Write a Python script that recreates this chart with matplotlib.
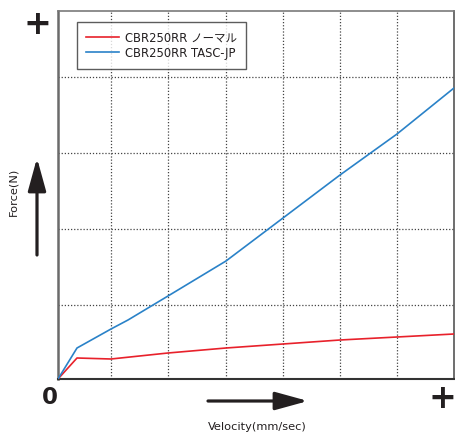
import matplotlib
matplotlib.use("Agg")
import matplotlib.pyplot as plt

plt.rcParams["font.family"] = ["DejaVu Sans", "Noto Sans CJK JP"]

# velocity / force samples (arbitrary units)
normal_x = [0, 19, 53, 110, 168, 282, 339, 396]
normal_y = [0, 21, 20, 26, 31, 39, 42, 45]
tasc_x = [0, 19, 53, 70, 110, 168, 225, 282, 339, 396]
tasc_y = [0, 31, 50, 59, 83, 118, 161, 204, 245, 291]

grid_x = [53, 110, 168, 225, 282, 339]
grid_y = [74, 150, 226, 302]

labels = ["CBR250RR ノーマル", "CBR250RR TASC-JP"]
colors = ["#e8212b", "#2a82c8"]

W, H = 455, 434
fig = plt.figure(figsize=(W / 100, H / 100), dpi=100)
ax = fig.add_axes([58 / W, (H - 379) / H, 396 / W, 368 / H])

for gx in grid_x:
    ax.axvline(gx, color="#444444", lw=0.9, ls=(0, (1, 1.5)), zorder=1)
for gy in grid_y:
    ax.axhline(gy, color="#444444", lw=0.9, ls=(0, (1, 1.5)), zorder=1)

ax.plot(normal_x, normal_y, color=colors[0], lw=1.2, label=labels[0], zorder=3)
ax.plot(tasc_x, tasc_y, color=colors[1], lw=1.2, label=labels[1], zorder=3)

ax.set_xlim(0, 396)
ax.set_ylim(0, 368)
ax.set_xticks([])
ax.set_yticks([])
ax.spines["left"].set_color("#6b6b6b")
ax.spines["left"].set_linewidth(1.8)
ax.spines["top"].set_color("#7a7a7a")
ax.spines["top"].set_linewidth(1.2)
ax.spines["right"].set_color("#555555")
ax.spines["right"].set_linewidth(1.2)
ax.spines["bottom"].set_color("#333333")
ax.spines["bottom"].set_linewidth(1.5)

leg = ax.legend(loc="upper left", fontsize=8.3, frameon=True, fancybox=False,
                handlelength=2.85, handletextpad=0.5, borderpad=0.8,
                labelspacing=0.2, borderaxespad=0,
                bbox_to_anchor=(77 / W, (H - 22) / H),
                bbox_transform=fig.transFigure)
leg.get_frame().set_edgecolor("#333333")
leg.get_frame().set_linewidth(1.0)
for line in leg.get_lines():
    line.set_linewidth(1.2)
for t in leg.get_texts():
    t.set_color("#231f20")

arrow = dict(arrowstyle="-|>,head_length=2.0,head_width=0.55", lw=2.3,
             color="#231f20", mutation_scale=10, shrinkA=0, shrinkB=0)
ax.annotate("", xy=(37, H - 158), xytext=(37, H - 255),
            xycoords="figure pixels", textcoords="figure pixels", arrowprops=arrow)
ax.annotate("", xy=(308, H - 401), xytext=(208, H - 401),
            xycoords="figure pixels", textcoords="figure pixels", arrowprops=arrow)

fig.text(13 / W, (H - 192) / H, "Force(N)", rotation=90, fontsize=8.2,
         ha="center", va="center", color="#231f20")
fig.text(257 / W, (H - 427) / H, "Velocity(mm/sec)", fontsize=8.2,
         ha="center", va="center", color="#231f20")

big = dict(fontweight="bold", color="#231f20", ha="center", va="center")
fig.text(50 / W, (H - 398) / H, "0", fontsize=16.5, **big)
fig.text(37 / W, (H - 24) / H, "+", fontsize=24, **big)
fig.text(442 / W, (H - 399) / H, "+", fontsize=24, **big)

fig.savefig("out.png", dpi=100)
